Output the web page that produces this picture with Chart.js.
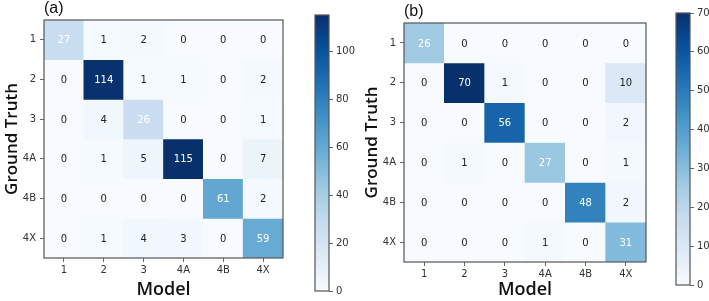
<!DOCTYPE html>
<html>
<head>
<meta charset="utf-8">
<script src="https://cdn.jsdelivr.net/npm/chart.js@4"></script>
<style>
  html, body { margin: 0; padding: 0; background: #fff; }
  #wrap { position: relative; width: 709px; height: 301px; overflow: hidden; }
  .box { position: absolute; top: 0; height: 301px; }
</style>
</head>
<body>
<div id="wrap">
  <div class="box" style="left:0;width:300px"><canvas id="ma"></canvas></div>
  <div class="box" style="left:300px;width:60px"><canvas id="ca"></canvas></div>
  <div class="box" style="left:360px;width:300px"><canvas id="mb"></canvas></div>
  <div class="box" style="left:660px;width:49px"><canvas id="cb"></canvas></div>
</div>
<script>
// ---- data ----
const modelLabels = ['1', '2', '3', '4A', '4B', '4X'];        // columns (x)
const truthLabels = ['1', '2', '3', '4A', '4B', '4X'];        // rows (y)
const matrixA = [
  [27, 1, 2, 0, 0, 0],
  [0, 114, 1, 1, 0, 2],
  [0, 4, 26, 0, 0, 1],
  [0, 1, 5, 115, 0, 7],
  [0, 0, 0, 0, 61, 2],
  [0, 1, 4, 3, 0, 59]
];
const matrixB = [
  [26, 0, 0, 0, 0, 0],
  [0, 70, 1, 0, 0, 10],
  [0, 0, 56, 0, 0, 2],
  [0, 1, 0, 27, 0, 1],
  [0, 0, 0, 0, 48, 2],
  [0, 0, 0, 1, 0, 31]
];
const colorbarTicksA = [0, 20, 40, 60, 80, 100];
const colorbarTicksB = [0, 10, 20, 30, 40, 50, 60, 70];
const panelTitles = ['(a)', '(b)'];
const xTitle = 'Model';
const yTitle = 'Ground Truth';
const whiteTextThreshold = 20;

// matplotlib "Blues"
const BLUES = ['#f7fbff','#deebf7','#c6dbef','#9ecae1','#6baed6','#4292c6','#2171b5','#08519c','#08306b'];
function hex2rgb(h){ return [parseInt(h.substr(1,2),16),parseInt(h.substr(3,2),16),parseInt(h.substr(5,2),16)]; }
function blues(t){
  t = Math.max(0, Math.min(1, t));
  const p = t * (BLUES.length - 1);
  const i = Math.min(Math.floor(p), BLUES.length - 2);
  const f = p - i;
  const a = hex2rgb(BLUES[i]), b = hex2rgb(BLUES[i+1]);
  return 'rgb(' + a.map((v,k)=>Math.round(v + (b[k]-v)*f)).join(',') + ')';
}

const FONT = 'DejaVu Sans';
const TICK_COLOR = '#333';
const FRAME_COLOR = '#555';

const framePlugin = {
  id: 'frame',
  afterDraw(chart, args, opts) {
    const {ctx, chartArea: a} = chart;
    ctx.save();
    ctx.strokeStyle = FRAME_COLOR;
    ctx.lineWidth = 1.2;
    ctx.strokeRect(a.left, a.top, a.right - a.left, a.bottom - a.top);
    if (opts.label) {
      ctx.fillStyle = '#111';
      ctx.font = '16px "Liberation Sans"';
      ctx.textAlign = 'left';
      ctx.textBaseline = 'bottom';
      ctx.fillText(opts.label, a.left + opts.labelDx, a.top - 3);
    }
    ctx.restore();
  }
};

const cellTextPlugin = {
  id: 'cellText',
  afterDatasetsDraw(chart) {
    const ctx = chart.ctx;
    ctx.save();
    ctx.font = '10px "' + FONT + '"';
    ctx.textAlign = 'center';
    ctx.textBaseline = 'middle';
    chart.data.datasets.forEach((ds, i) => {
      const meta = chart.getDatasetMeta(i);
      meta.data.forEach((el, j) => {
        const v = ds.values[j];
        const c = el.getCenterPoint();
        ctx.fillStyle = v > whiteTextThreshold ? '#ffffff' : '#222';
        ctx.fillText(String(v), c.x, c.y + 1);
      });
    });
    ctx.restore();
  }
};

function matrixChart(id, matrix, label, pad, xAxisH, labelDx) {
  const maxV = Math.max(...matrix.flat());
  const datasets = matrix.map((row, r) => ({
    label: truthLabels[r],
    values: row,
    data: row.map(() => [r, r + 1]),
    backgroundColor: row.map(v => blues(v / maxV)),
    borderWidth: 0,
    barPercentage: 1,
    categoryPercentage: 1,
    grouped: false
  }));
  return new Chart(document.getElementById(id), {
    type: 'bar',
    data: { labels: modelLabels, datasets },
    options: {
      responsive: true, maintainAspectRatio: false, animation: false,
      layout: { padding: pad },
      plugins: { legend: { display: false }, tooltip: { enabled: false },
                 frame: { label, labelDx } },
      scales: {
        x: {
          type: 'category', offset: true,
          grid: { offset: false, drawOnChartArea: false, drawTicks: true, tickLength: 4, color: '#666' },
          border: { display: false },
          ticks: { color: TICK_COLOR, font: { family: FONT, size: 10 }, padding: 2, maxRotation: 0 },
          title: { display: true, text: xTitle, color: '#111', font: { family: 'Open Sans', size: 18, weight: '600' }, padding: { top: 0, bottom: 0 } },
          afterFit(s) { s.height = xAxisH; }
        },
        y: {
          type: 'linear', reverse: true, min: 0, max: truthLabels.length,
          afterBuildTicks(s) { s.ticks = truthLabels.map((_, i) => ({ value: i + 0.5 })); },
          grid: { drawOnChartArea: false, drawTicks: true, tickLength: 4, color: '#666' },
          border: { display: false },
          ticks: { color: TICK_COLOR, font: { family: FONT, size: 10 }, padding: 4,
                   callback: v => truthLabels[Math.floor(v)] },
          title: { display: true, text: yTitle, color: '#111', font: { family: 'Open Sans', size: 17, weight: '600' }, padding: { top: 2, bottom: 0 } },
          afterFit(s) { s.width = 44; }
        }
      }
    },
    plugins: [framePlugin, cellTextPlugin]
  });
}

function colorbarChart(id, maxV, ticksList, pad, axisW) {
  return new Chart(document.getElementById(id), {
    type: 'bar',
    data: {
      labels: [''],
      datasets: [{
        data: [[0, maxV]],
        backgroundColor(ctx) {
          const a = ctx.chart.chartArea;
          if (!a) return BLUES[4];
          const g = ctx.chart.ctx.createLinearGradient(0, a.bottom, 0, a.top);
          BLUES.forEach((c, i) => g.addColorStop(i / (BLUES.length - 1), c));
          return g;
        },
        borderWidth: 0, barPercentage: 1, categoryPercentage: 1
      }]
    },
    options: {
      responsive: true, maintainAspectRatio: false, animation: false,
      layout: { padding: pad },
      plugins: { legend: { display: false }, tooltip: { enabled: false }, frame: {} },
      scales: {
        x: { display: false },
        y: {
          position: 'right', min: 0, max: maxV,
          afterBuildTicks(s) { s.ticks = ticksList.map(v => ({ value: v })); },
          grid: { drawOnChartArea: false, drawTicks: true, tickLength: 4, color: '#666' },
          border: { display: false },
          ticks: { color: TICK_COLOR, font: { family: FONT, size: 10 }, padding: 3 },
          afterFit(s) { s.width = axisW; }
        }
      }
    },
    plugins: [framePlugin]
  });
}

matrixChart('ma', matrixA, panelTitles[0], { top: 20, right: 17, left: 0, bottom: 0 }, 43, 0);
colorbarChart('ca', Math.max(...matrixA.flat()), colorbarTicksA, { top: 15, bottom: 10, left: 15, right: 0 }, 31);
matrixChart('mb', matrixB, panelTitles[1], { top: 23, right: 14, left: 0, bottom: 0 }, 39, 0);
colorbarChart('cb', Math.max(...matrixB.flat()), colorbarTicksB, { top: 13, bottom: 16, left: 16, right: 0 }, 19);
</script>
</body>
</html>
